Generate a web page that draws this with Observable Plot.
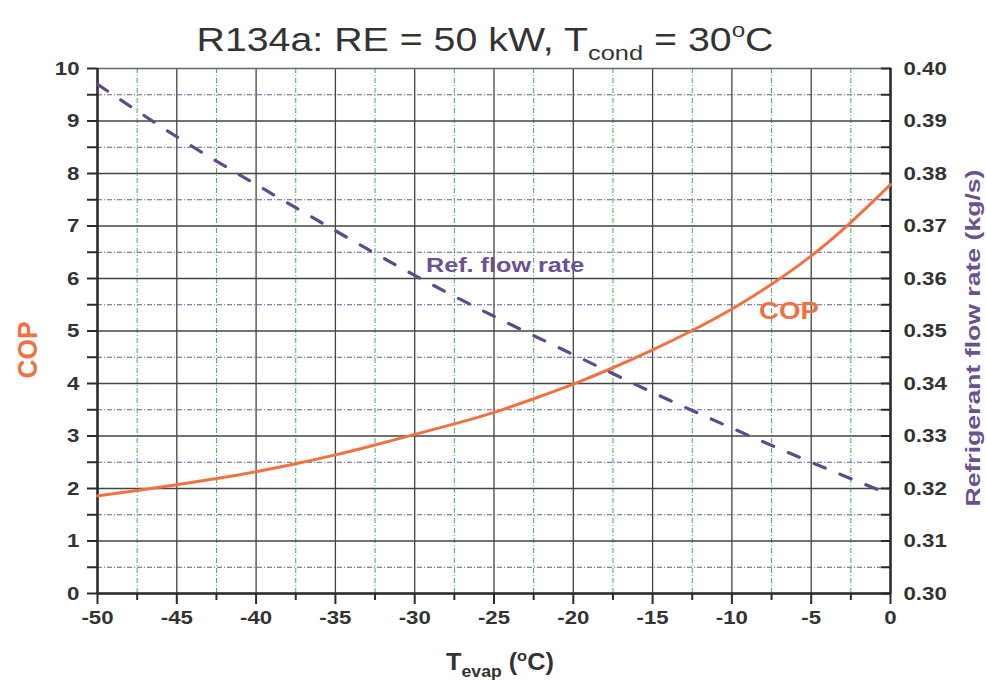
<!DOCTYPE html>
<html>
<head>
<meta charset="utf-8">
<script src="https://cdn.jsdelivr.net/npm/d3@7"></script>
<script src="https://cdn.jsdelivr.net/npm/@observablehq/plot@0.6"></script>
<style>
  html, body { margin: 0; padding: 0; background: #fff; }
  #chart { width: 986px; height: 680px; }
</style>
</head>
<body>
<div id="chart"></div>
<script>
// ---- data ----
const tempCOP = [-50, -47.5, -45, -42.5, -40, -37.5, -35, -32.5, -30, -27.5, -25, -22.5, -20, -17.5, -15, -12.5, -10, -7.5, -5, -2.5, 0];
const cop     = [1.86, 1.96, 2.07, 2.19, 2.32, 2.47, 2.64, 2.83, 3.03, 3.23, 3.45, 3.71, 3.99, 4.30, 4.64, 5.01, 5.42, 5.89, 6.43, 7.07, 7.79];

const tempFlow = [-50, -45, -40, -35, -30, -25, -20, -15, -10, -5, 0];
const flow     = [0.3970, 0.3870, 0.3779, 0.3691, 0.3606, 0.3528, 0.3455, 0.3383, 0.3315, 0.3250, 0.3188];

const xMajorTicks = [-50, -45, -40, -35, -30, -25, -20, -15, -10, -5, 0];
const xMinorTicks = [-47.5, -42.5, -37.5, -32.5, -27.5, -22.5, -17.5, -12.5, -7.5, -2.5];
const yMajorTicks = [0, 1, 2, 3, 4, 5, 6, 7, 8, 9, 10];
const yMinorTicks = [0.5, 1.5, 2.5, 3.5, 4.5, 5.5, 6.5, 7.5, 8.5, 9.5];
const flowTickLabels = ["0.30", "0.31", "0.32", "0.33", "0.34", "0.35", "0.36", "0.37", "0.38", "0.39", "0.40"];
const flowBase = 0.30, flowPerCopUnit = 0.01; // right axis: 0.30..0.40 over left 0..10

const flowLabel = [{t: -24.3, v: 6.25, text: "Ref. flow rate"}];
const copLabel  = [{t: -6.4,  v: 5.37, text: "COP"}];

const copData = tempCOP.map((t, i) => ({t, v: cop[i]}));
const flowData = tempFlow.map((t, i) => ({t, f: flow[i]}));

const ORANGE = "#f07241", PURPLE = "#5f4a8b", LABELPURPLE = "#6b5190", INK = "#333";
const FONT = "'Liberation Sans', Arial, Helvetica, sans-serif";
const STRETCH = 1.17;

const plot = Plot.plot({
  width: 986, height: 680,
  marginLeft: 97, marginRight: 96, marginTop: 68, marginBottom: 87,
  style: {fontFamily: FONT, background: "#fff", color: INK, overflow: "visible"},
  x: {domain: [-50, 0]},
  y: {domain: [0, 10]},
  marks: [
    Plot.ruleX(xMinorTicks, {stroke: "#3cb054", strokeWidth: 1, strokeDasharray: "5,2,1,2"}),
    Plot.ruleY(yMinorTicks, {stroke: "#6a5a96", strokeWidth: 1, strokeDasharray: "5,2,1,2"}),
    Plot.ruleX(xMajorTicks.slice(1, -1), {stroke: "#444", strokeWidth: 1.3}),
    Plot.ruleY(yMajorTicks.slice(1, -1), {stroke: "#444", strokeWidth: 1.3}),
    Plot.frame({stroke: "#666", strokeWidth: 1.5}),
    Plot.ruleX([-50, 0], {stroke: "#2b2b2b", strokeWidth: 2.5}),
    Plot.ruleY([0], {stroke: "#2b2b2b", strokeWidth: 2.5}),
    // bottom axis
    Plot.axisX(xMajorTicks, {anchor: "bottom", tickSize: 11, tickPadding: 6, label: null, fontSize: 19, fontWeight: "bold", fill: INK, stroke: "#2b2b2b", strokeWidth: 2, tickFormat: d => String(d)}),
    Plot.axisX(xMinorTicks, {anchor: "bottom", tickSize: 7, label: null, tickFormat: () => "", stroke: "#2b2b2b", strokeWidth: 2}),
    // left axis
    Plot.axisY(yMajorTicks, {anchor: "left", tickSize: 10, tickPadding: 8, label: null, fontSize: 19, fontWeight: "bold", fill: INK, stroke: "#2b2b2b", strokeWidth: 2, tickFormat: d => String(d)}),
    Plot.axisY(yMinorTicks, {anchor: "left", tickSize: 10, label: null, tickFormat: () => "", stroke: "#2b2b2b", strokeWidth: 2}),
    // right axis (flow rate), ticks inward
    Plot.axisY(yMajorTicks, {anchor: "right", tickSize: -10, tickPadding: 23, label: null, fontSize: 19, fontWeight: "bold", fill: INK, stroke: "#2b2b2b", strokeWidth: 2, tickFormat: d => flowTickLabels[Math.round(d)]}),
    Plot.axisY(yMinorTicks, {anchor: "right", tickSize: -10, tickPadding: 23, label: null, tickFormat: () => "", stroke: "#2b2b2b", strokeWidth: 2}),
    // series
    Plot.line(copData, {x: "t", y: "v", stroke: ORANGE, strokeWidth: 3, curve: "natural"}),
    Plot.line(flowData, {x: "t", y: d => (d.f - flowBase) / flowPerCopUnit, stroke: PURPLE, strokeWidth: 3.2, strokeDasharray: "12,16", strokeLinecap: "round", curve: "natural"}),
    Plot.text(flowLabel, {x: "t", y: "v", text: "text", fill: LABELPURPLE, fontSize: 21, fontWeight: "bold"}),
    Plot.text(copLabel, {x: "t", y: "v", text: "text", fill: ORANGE, fontSize: 23, fontWeight: "bold"})
  ]
});

document.getElementById("chart").appendChild(plot);
const svg = d3.select(plot);

// widen horizontal texts to match the reference's wide lettering
svg.selectAll("g[aria-label='x-axis tick label'] text, g[aria-label='y-axis tick label'] text").each(function () {
  const L = this.getComputedTextLength();
  if (L > 0) d3.select(this).attr("textLength", (L * STRETCH).toFixed(1)).attr("lengthAdjust", "spacingAndGlyphs");
});
svg.selectAll("g[aria-label='text'] text").each(function () {
  const L = this.getComputedTextLength();
  if (L > 0) d3.select(this).attr("textLength", (L * 1.2).toFixed(1)).attr("lengthAdjust", "spacingAndGlyphs");
});

// Title with subscript and superscript
const title = svg.append("text")
  .attr("x", 485).attr("y", 51)
  .attr("text-anchor", "middle")
  .attr("transform", `translate(485,0) scale(1.21,1) translate(-485,0)`)
  .attr("font-family", FONT).attr("font-size", 32.5).attr("fill", "#333");
title.append("tspan").text("R134a: RE = 50 kW, T");
title.append("tspan").attr("dy", 9).attr("font-size", 21).text("cond");
title.append("tspan").attr("dy", -9).text(" = 30");
title.append("tspan").attr("dy", -14).attr("font-size", 20).text("o");
title.append("tspan").attr("dy", 14).text("C");

// x-axis label
const xl = svg.append("text")
  .attr("x", 500).attr("y", 670)
  .attr("text-anchor", "middle")
  .attr("transform", `translate(500,0) scale(1.1,1) translate(-500,0)`)
  .attr("font-family", FONT).attr("font-size", 23).attr("font-weight", "bold").attr("fill", "#333");
xl.append("tspan").text("T");
xl.append("tspan").attr("dy", 7).attr("font-size", 16).text("evap");
xl.append("tspan").attr("dy", -7).text(" (");
xl.append("tspan").attr("dy", -9).attr("font-size", 15).text("o");
xl.append("tspan").attr("dy", 9).text("C)");

// left axis label
svg.append("text")
  .attr("transform", "translate(37,350) rotate(-90)")
  .attr("text-anchor", "middle")
  .attr("font-family", FONT).attr("font-size", 27).attr("font-weight", "bold").attr("fill", ORANGE)
  .attr("textLength", 57).attr("lengthAdjust", "spacingAndGlyphs")
  .text("COP");

// right axis label
svg.append("text")
  .attr("transform", "translate(980,338) rotate(-90)")
  .attr("text-anchor", "middle")
  .attr("font-family", FONT).attr("font-size", 21).attr("font-weight", "bold").attr("fill", LABELPURPLE)
  .attr("textLength", 337).attr("lengthAdjust", "spacingAndGlyphs")
  .text("Refrigerant flow rate (kg/s)");
</script>
</body>
</html>
